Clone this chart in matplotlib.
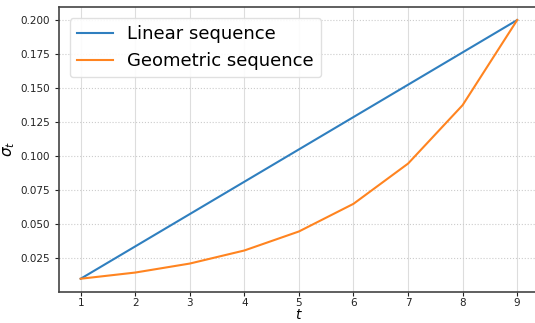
import matplotlib
matplotlib.use("Agg")
import matplotlib.pyplot as plt

t = [1, 2, 3, 4, 5, 6, 7, 8, 9]
linear_seq = [0.01, 0.03375, 0.0575, 0.08125, 0.105, 0.12875, 0.1525, 0.17625, 0.2]
geometric_seq = [0.01, 0.01454, 0.02115, 0.03075, 0.04472, 0.06503, 0.09457, 0.13751, 0.2]
y_ticks = [0.025, 0.05, 0.075, 0.1, 0.125, 0.15, 0.175, 0.2]

fig = plt.figure(figsize=(5.35, 3.23), dpi=100)
ax = fig.add_axes([0.110, 0.097, 0.8975, 0.881])

ax.plot(t, linear_seq, color="#2f7fbf", lw=1.5, label="Linear sequence")
ax.plot(t, geometric_seq, color="#ff8420", lw=1.5, label="Geometric sequence")

ax.set_xlim(0.6, 9.4)
ax.set_ylim(0.0005, 0.2095)
ax.set_xticks(t)
ax.set_yticks(y_ticks)
ax.set_yticklabels([f"{v:.3f}" for v in y_ticks])

ax.grid(axis="x", color="#dddddd", lw=0.8, ls="-")
ax.grid(axis="y", color="#cccccc", lw=0.8, ls=":")
ax.set_axisbelow(True)

for s in ax.spines.values():
    s.set_color("#444444")
    s.set_linewidth(1.2)
ax.spines["right"].set_visible(False)

ax.tick_params(labelsize=7.5, colors="#222222", length=3)
ax.tick_params(axis="x", pad=1.8)
ax.set_xlabel("$t$", fontsize=10, labelpad=-0.5)
ax.set_ylabel(r"$\sigma_t$", fontsize=11, labelpad=2)

ax.legend(loc="upper left", fontsize=13, handlelength=2.0, borderaxespad=0.6,
          framealpha=0.9, edgecolor="#dddddd")

fig.savefig("out.png", dpi=100)
